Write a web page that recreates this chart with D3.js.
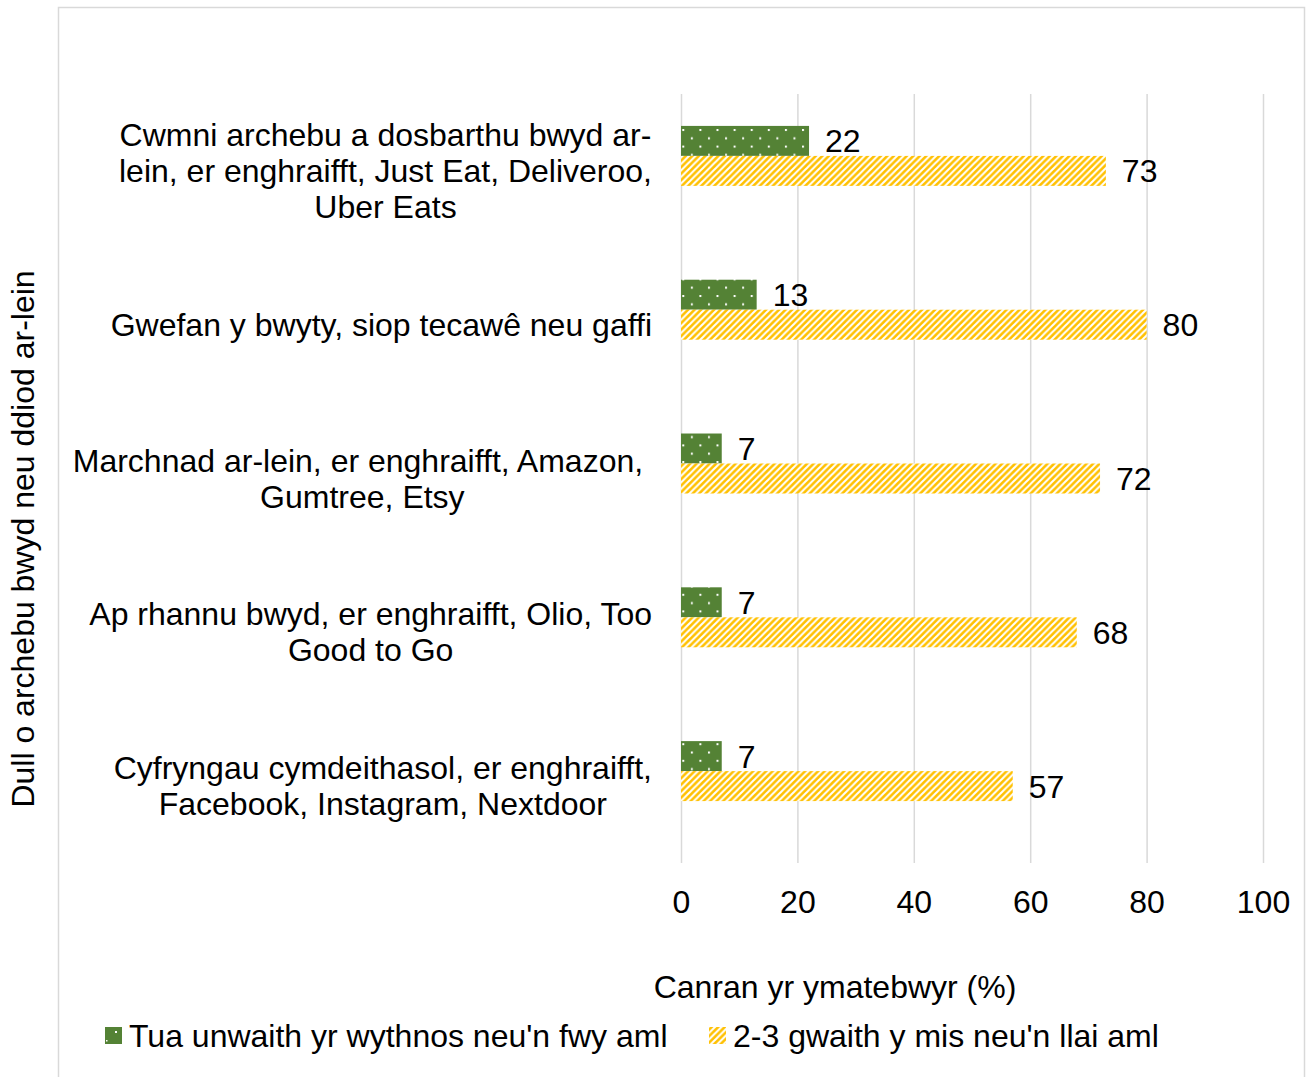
<!DOCTYPE html>
<html><head><meta charset="utf-8">
<script src="https://cdn.jsdelivr.net/npm/d3@7"></script>
<style>
body{margin:0;background:#fff}
svg{display:block}
text{font-family:"Liberation Sans",Arial,sans-serif;fill:#000}
</style></head>
<body><svg id="c" width="1306" height="1077"></svg>
<script>
// ---- data ----
const categories = [
  "Cwmni archebu a dosbarthu bwyd ar-lein, er enghraifft, Just Eat, Deliveroo, Uber Eats",
  "Gwefan y bwyty, siop tecawê neu gaffi",
  "Marchnad ar-lein, er enghraifft, Amazon, Gumtree, Etsy",
  "Ap rhannu bwyd, er enghraifft, Olio, Too Good to Go",
  "Cyfryngau cymdeithasol, er enghraifft, Facebook, Instagram, Nextdoor"
];
const categoryLines = [
  ["Cwmni archebu a dosbarthu bwyd ar-", "lein, er enghraifft, Just Eat, Deliveroo,", "Uber Eats"],
  ["Gwefan y bwyty, siop tecawê neu gaffi"],
  ["Marchnad ar-lein, er enghraifft, Amazon, ", "Gumtree, Etsy"],
  ["Ap rhannu bwyd, er enghraifft, Olio, Too", "Good to Go"],
  ["Cyfryngau cymdeithasol, er enghraifft,", "Facebook, Instagram, Nextdoor"]
];
const seriesNames = ["Tua unwaith yr wythnos neu'n fwy aml", "2-3 gwaith y mis neu'n llai aml"];
const weekly = [22, 13, 7, 7, 7];
const monthly = [73, 80, 72, 68, 57];
const xTicks = [0, 20, 40, 60, 80, 100];
const xTitle = "Canran yr ymatebwyr (%)";
const yTitle = "Dull o archebu bwyd neu ddiod ar-lein";

// ---- setup ----
const svg = d3.select("#c");
const FS = 32;
const green = "#548235", yellow = "#FFC000", gridC = "#d9d9d9";
const plotTop = 94, plotBottom = 863;

const defs = svg.append("defs");
const pd = defs.append("pattern").attr("id", "dots").attr("patternUnits", "userSpaceOnUse")
  .attr("width", 17.1).attr("height", 16.6).attr("x", 682.3).attr("y", 129);
pd.append("rect").attr("width", 17.1).attr("height", 16.6).attr("fill", green);
pd.append("rect").attr("x", 0).attr("y", 0).attr("width", 2).attr("height", 2).attr("fill", "#fff");
pd.append("rect").attr("x", 8.55).attr("y", 8.3).attr("width", 2).attr("height", 2).attr("fill", "#fff");

const ps = defs.append("pattern").attr("id", "stripes").attr("patternUnits", "userSpaceOnUse")
  .attr("width", 6.5).attr("height", 6.5);
ps.append("rect").attr("width", 6.5).attr("height", 6.5).attr("fill", yellow);
ps.append("path").attr("d", "M-1,7.5 L7.5,-1 M-4.25,4.25 L4.25,-4.25 M2.25,10.75 L10.75,2.25")
  .attr("stroke", "#fff").attr("stroke-width", 2.1);

const pl = defs.append("pattern").attr("id", "dotsLeg").attr("patternUnits", "userSpaceOnUse")
  .attr("width", 17).attr("height", 17).attr("x", 105).attr("y", 1027);
pl.append("rect").attr("width", 17).attr("height", 17).attr("fill", green);
pl.append("rect").attr("x", 10).attr("y", 4).attr("width", 2).attr("height", 2).attr("fill", "#fff");
pl.append("rect").attr("x", 1).attr("y", 13).attr("width", 1.5).attr("height", 1.5).attr("fill", "#fff");

// border
svg.append("rect").attr("x", 58.5).attr("y", 7.5).attr("width", 1246).attr("height", 1100)
  .attr("fill", "none").attr("stroke", gridC).attr("stroke-width", 1.5);

const x = d3.scaleLinear().domain([0, 100]).range([681, 1263]);
const y = d3.scaleBand().domain(categories).range([plotTop, plotBottom]).paddingInner(0.415).paddingOuter(0.2075);
const sub = d3.scaleBand().domain([...seriesNames, "_gap"]).range([0, y.bandwidth()]);

// grid
const grid = svg.append("g").attr("transform", `translate(0,${plotBottom})`)
  .call(d3.axisBottom(x).tickValues(xTicks).tickSize(-(plotBottom - plotTop)).tickFormat(""));
grid.select(".domain").remove();
grid.selectAll("line").attr("stroke", gridC).attr("stroke-width", 1.5);

// x tick labels
const ax = svg.append("g").attr("transform", "translate(0,913)")
  .call(d3.axisBottom(x).tickValues(xTicks).tickSize(0));
ax.select(".domain").remove();
ax.selectAll("text").attr("y", 0).attr("dy", 0).style("font-size", FS + "px")
  .style("font-family", '"Liberation Sans",Arial,sans-serif').attr("fill", "#000");

// bars
const rows = categories.map((c, i) => ({c, w: weekly[i], m: monthly[i]}));
const g = svg.append("g");
g.selectAll("rect.w").data(rows).join("rect").attr("class", "w")
  .attr("x", x(0)).attr("y", d => y(d.c) + sub(seriesNames[0]))
  .attr("width", d => x(d.w) - x(0)).attr("height", sub.bandwidth())
  .attr("fill", "url(#dots)");
g.selectAll("rect.m").data(rows).join("rect").attr("class", "m")
  .attr("x", x(0)).attr("y", d => y(d.c) + sub(seriesNames[1]))
  .attr("width", d => x(d.m) - x(0)).attr("height", sub.bandwidth())
  .attr("fill", "url(#stripes)");

// value labels
g.selectAll("text.wl").data(rows).join("text").attr("class", "wl")
  .attr("x", d => x(d.w) + 16).attr("y", d => y(d.c) + sub(seriesNames[0]) + sub.bandwidth() / 2)
  .attr("dy", "0.36em").style("font-size", FS + "px").text(d => d.w);
g.selectAll("text.ml").data(rows).join("text").attr("class", "ml")
  .attr("x", d => x(d.m) + 16).attr("y", d => y(d.c) + sub(seriesNames[1]) + sub.bandwidth() / 2)
  .attr("dy", "0.36em").style("font-size", FS + "px").text(d => d.m);

// category labels
const lh = 36;
categories.forEach((c, i) => {
  const lines = categoryLines[i];
  const cy = y(c) + y.bandwidth() / 2;
  const t = svg.append("text").attr("text-anchor", "middle").style("font-size", FS + "px")
    .style("white-space", "pre");
  const spans = lines.map((ln, j) => t.append("tspan").attr("x", 0)
    .attr("y", cy + 11 + (j - (lines.length - 1) / 2) * lh).text(ln));
  const maxW = d3.max(spans, s => s.node().getComputedTextLength());
  spans.forEach(s => s.attr("x", 652 - maxW / 2));
});

// axis titles
svg.append("text").attr("x", 835).attr("y", 998).attr("text-anchor", "middle")
  .style("font-size", FS + "px").text(xTitle);
svg.append("text").attr("transform", "translate(34,539) rotate(-90)").attr("text-anchor", "middle")
  .style("font-size", FS + "px").text(yTitle);

// legend
const leg = [
  {name: seriesNames[0], fill: "url(#dotsLeg)", x: 105},
  {name: seriesNames[1], fill: "url(#stripes)", x: 709}
];
leg.forEach(l => {
  svg.append("rect").attr("x", l.x).attr("y", 1027).attr("width", 17).attr("height", 17).attr("fill", l.fill);
  svg.append("text").attr("x", l.x + 24).attr("y", 1047).style("font-size", FS + "px").text(l.name);
});
</script>
</body></html>
